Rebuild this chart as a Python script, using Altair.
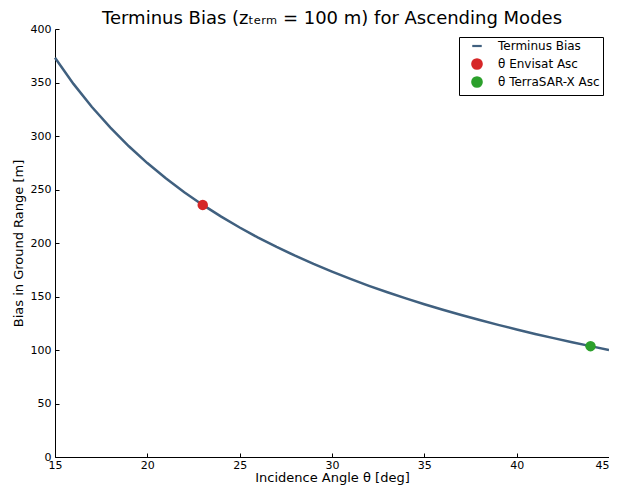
import altair as alt
import pandas as pd

# Curve values (bias vs. incidence angle)
angles = [15, 16, 17, 18, 19, 20, 21, 22, 23, 24, 25, 26, 27, 28, 29, 30,
          31, 32, 33, 34, 35, 36, 37, 38, 39, 40, 41, 42, 43, 44, 45]
bias = [373.2, 348.7, 327.1, 307.8, 290.4, 274.7, 260.5, 247.5, 235.6, 224.6,
        214.5, 205.0, 196.3, 188.1, 180.4, 173.2, 166.4, 160.0, 154.0, 148.3,
        142.8, 137.6, 132.7, 128.0, 123.5, 119.2, 115.0, 111.1, 107.2, 103.6, 100.0]

pt_names = ["θ Envisat Asc", "θ TerraSAR-X Asc"]
pt_angles = [23, 44]
pt_bias = [235.6, 103.6]

series = ["Terminus Bias", "θ Envisat Asc", "θ TerraSAR-X Asc"]
colors = ["#40607f", "#d62728", "#2ca02c"]
shapes = ["stroke", "circle", "circle"]

x_ticks = [15, 20, 25, 30, 35, 40, 45]
y_ticks = [0, 50, 100, 150, 200, 250, 300, 350, 400]

line_df = pd.DataFrame({"angle": angles, "bias": bias, "series": "Terminus Bias"})
pt_df = pd.DataFrame({"angle": pt_angles, "bias": pt_bias, "series": pt_names})

xscale = alt.Scale(domain=[15, 45], nice=False, zero=False)
yscale = alt.Scale(domain=[0, 400], nice=False)
cscale = alt.Scale(domain=series, range=colors)
sscale = alt.Scale(domain=series, range=shapes)

legend = alt.Legend(
    title=None, orient="none", legendX=404, legendY=8,
    strokeColor="black", fillColor="white", padding=3,
    labelFontSize=12, labelFont="DejaVu Sans", labelColor="black",
    symbolSize=90, symbolStrokeWidth=2.2, rowPadding={"expr": "-2"},
    labelOffset=15, symbolOffset=9, gridAlign="all", labelLimit=200,
)

common_axis = dict(
    tickSize={"expr": "-4"}, tickColor="black", grid=False,
    labelFontSize=11, titleFontSize=13, titleFontWeight="normal",
    labelFont="DejaVu Sans", titleFont="DejaVu Sans",
    domainColor="black", labelColor="black", titleColor="black",
    labelFlush=False, labelOverlap=False,
)

xaxis = alt.Axis(title="Incidence Angle θ [deg]", values=x_ticks,
                 labelPadding=6, titlePadding=1,
                 labelAlign=alt.condition("datum.value == 45",
                                          alt.value("right"), alt.value("center")),
                 **common_axis)
yaxis = alt.Axis(title="Bias in Ground Range [m]", values=y_ticks,
                 labelPadding=8, titlePadding=5, **common_axis)

line = alt.Chart(line_df).mark_line(strokeWidth=2.5).encode(
    x=alt.X("angle:Q", scale=xscale, axis=xaxis),
    y=alt.Y("bias:Q", scale=yscale, axis=yaxis),
    color=alt.Color("series:N", scale=cscale, legend=legend),
    shape=alt.Shape("series:N", scale=sscale, legend=legend),
)

points = alt.Chart(pt_df).mark_point(filled=True, size=110, opacity=1).encode(
    x=alt.X("angle:Q", scale=xscale),
    y=alt.Y("bias:Q", scale=yscale),
    color=alt.Color("series:N", scale=cscale, legend=legend),
    shape=alt.Shape("series:N", scale=sscale, legend=legend),
)

chart = alt.layer(line, points).properties(
    width=554, height=428,
    title=alt.TitleParams("Terminus Bias (zₜₑᵣₘ = 100 m) for Ascending Modes",
                          fontSize=18, font="DejaVu Sans", fontWeight="normal",
                          color="black", offset=-5, frame="group"),
    autosize=alt.AutoSizeParams(type="none"),
    padding={"left": 47, "top": 21, "right": 0, "bottom": 28},
).configure_view(stroke=None)

chart.save("out.html", embed_options={"renderer": "svg", "actions": False})
